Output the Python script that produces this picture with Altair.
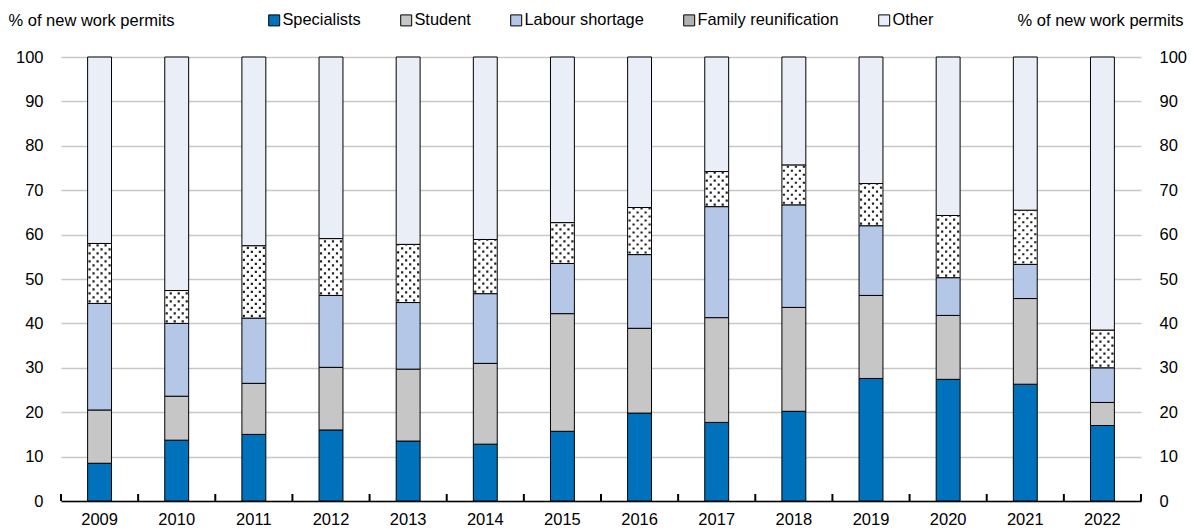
import altair as alt
import pandas as pd

years = [str(y) for y in range(2009, 2023)]
categories = ["Specialists", "Student", "Labour shortage", "Family reunification", "Other"]
specialists = [8.5, 13.7, 15.0, 16.0, 13.5, 12.8, 15.7, 19.8, 17.7, 20.2, 27.6, 27.4, 26.3, 17.0]
student = [12.0, 9.9, 11.5, 14.1, 16.2, 18.2, 26.5, 19.1, 23.6, 23.4, 18.7, 14.4, 19.3, 5.2]
labour = [24.0, 16.4, 14.7, 16.2, 15.0, 15.7, 11.3, 16.6, 25.0, 23.1, 15.7, 8.5, 7.7, 7.8]
family = [13.5, 7.4, 16.3, 12.8, 13.1, 12.2, 9.2, 10.6, 7.9, 9.0, 9.5, 14.0, 12.2, 8.5]
other = [42.0, 52.6, 42.5, 40.9, 42.2, 41.1, 37.3, 33.9, 25.8, 24.3, 28.5, 35.7, 34.5, 61.5]
colors = ["#0072bc", "#c6c6c6", "#b4c7e7", "#b0b0b0", "#e9eef7"]

series = [specialists, student, labour, family, other]
rows = []
for i, yr in enumerate(years):
    base = 0.0
    for cat, vals in zip(categories, series):
        rows.append({"year": yr, "cat": cat, "start": base, "end": base + vals[i]})
        base += vals[i]
df = pd.DataFrame(rows)
fam = df[df["cat"] == "Family reunification"]
yr_df = pd.DataFrame({"year": years})

W, H = 1080, 444
P_IN = 0.69
STEP = W / len(years)
HALF_GAP = P_IN * STEP / 2

FONT = "Liberation Sans"
xscale = alt.Scale(paddingInner=P_IN, paddingOuter=P_IN / 2)
xenc = alt.X("year:N", sort=years, title=None, scale=xscale,
             axis=alt.Axis(labelAngle=0, labelFontSize=16.5, labelColor="#000",
                           domainColor="#000", domainWidth=1.5, ticks=False,
                           labelPadding=10, grid=False))
yscale = alt.Scale(domain=[0, 100], nice=False, zero=True)

bars = alt.Chart(df).mark_bar(stroke="#000", strokeWidth=1).encode(
    x=xenc,
    y=alt.Y("start:Q", scale=yscale,
            axis=alt.Axis(values=list(range(0, 101, 10)), domain=False, ticks=False,
                          labelFontSize=16.5, labelColor="#000", labelPadding=18,
                          gridColor="#c8c8c8", gridWidth=1.5,
                          title="% of new work permits", titleAngle=0, titleFontSize=16.5,
                          titleFontWeight="normal", titleColor="#000",
                          titleAlign="left", titleBaseline="middle",
                          titleX=-53, titleY=-37)),
    y2="end:Q",
    color=alt.condition(
        "datum.cat == 'Family reunification'",
        alt.value("#ffffff"),
        alt.Color("cat:N", scale=alt.Scale(domain=categories, range=colors),
                  legend=alt.Legend(title=None, orient="none", legendX=205, legendY=-45,
                                    direction="horizontal", columns=5, columnPadding=37,
                                    symbolType="square", symbolSize=121,
                                    symbolStrokeColor="#000", symbolStrokeWidth=1,
                                    labelFontSize=16.4, labelColor="#000", labelOffset=0)),
    ),
)

dot_layers = []
offsets = [-10, -6, -2, 2, 6, 10]
for k, off in enumerate(offsets):
    dot_layers.append(
        alt.Chart(fam).mark_rule(xOffset=off, strokeWidth=2.2, color="#222",
                                 strokeDash=[2.2, 5.8], strokeDashOffset=(4 if k % 2 else 0) - 1,
                                 strokeCap="butt").encode(
            x=alt.X("year:N", sort=years),
            y=alt.Y("start:Q", scale=yscale),
            y2="end:Q",
        )
    )

ticks_left = alt.Chart(yr_df).mark_rule(color="#000", strokeWidth=2, xOffset=-HALF_GAP).encode(
    x=alt.X("year:N", sort=years, bandPosition=0),
    y=alt.value(H), y2=alt.value(H - 7),
)
ticks_end = alt.Chart(yr_df.tail(1)).mark_rule(color="#000", strokeWidth=2, xOffset=HALF_GAP).encode(
    x=alt.X("year:N", sort=years, bandPosition=1),
    y=alt.value(H), y2=alt.value(H - 7),
)

inner = alt.layer(bars, *dot_layers, ticks_left, ticks_end)

right = alt.Chart(df).mark_point(opacity=0).encode(
    x=alt.X("year:N", sort=years),
    y=alt.Y("end:Q", scale=yscale,
            axis=alt.Axis(orient="right", values=list(range(0, 101, 10)), domain=False,
                          ticks=False, grid=False, labelFontSize=16.5, labelColor="#000",
                          labelPadding=18, title="% of new work permits", titleAngle=0,
                          titleFontSize=16.5, titleFontWeight="normal", titleColor="#000",
                          titleAlign="right", titleBaseline="middle",
                          titleX=42, titleY=-37)),
)

chart = alt.layer(inner, right).resolve_scale(y="independent").properties(
    width=W, height=H,
    autosize=alt.AutoSizeParams(type="none"),
    padding={"left": 53, "top": 49, "right": 46, "bottom": 28},
).configure(font=FONT).configure_view(stroke=None)

chart.save("out.html", embed_options={"renderer": "svg", "actions": False})
